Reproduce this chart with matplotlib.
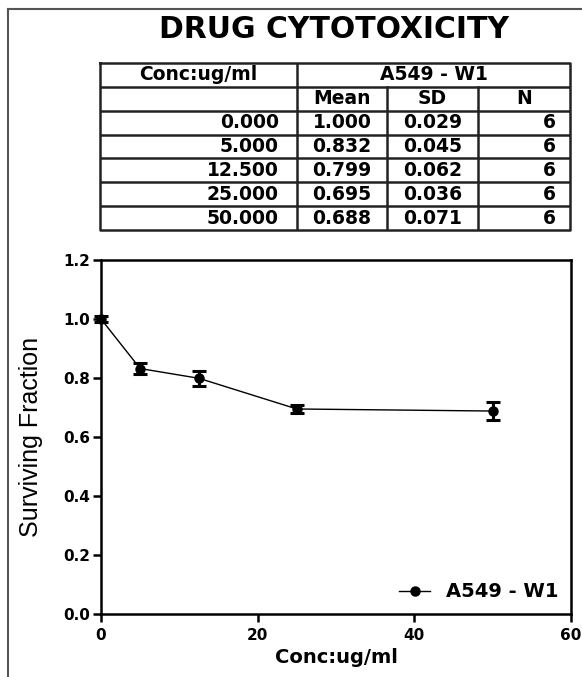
import numpy as np
import matplotlib
matplotlib.use("Agg")
from matplotlib import pyplot as plt
from matplotlib.lines import Line2D

plt.rcParams['font.family'] = ['DejaVu Sans']

# data
conc = [0.0, 5.0, 12.5, 25.0, 50.0]
mean = [1.000, 0.832, 0.799, 0.695, 0.688]
sd = [0.029, 0.045, 0.062, 0.036, 0.071]
n = [6, 6, 6, 6, 6]
series = "A549 - W1"
sem = [s / np.sqrt(k) for s, k in zip(sd, n)]

W, H = 582, 677
fig = plt.figure(figsize=(W / 100, H / 100), dpi=100)

# page frame (left and top only)
fig.add_artist(Line2D([8 / W, 8 / W], [0, 1 - 9 / H], color="#555555", lw=1.5))
fig.add_artist(Line2D([8 / W, 1], [1 - 9 / H, 1 - 9 / H], color="#555555", lw=1.5))

fig.text(334 / W, 1 - 29 / H, "DRUG CYTOTOXICITY", ha="center", va="center",
         fontsize=21.5, fontweight="bold")

# ---- table ----
tx0, tx1, ty0, ty1 = 100, 570, 63, 230
tax = fig.add_axes([tx0 / W, 1 - ty1 / H, (tx1 - tx0) / W, (ty1 - ty0) / H])
tax.set_xlim(tx0, tx1)
tax.set_ylim(7, 0)
tax.axis("off")
cols = [100, 297, 387, 478, 570]
lc = "#222222"
lw = 1.8
tax.plot([tx0, tx1, tx1, tx0, tx0], [0, 0, 7, 7, 0], color=lc, lw=lw, clip_on=False)
for r in range(1, 7):
    tax.plot([tx0, tx1], [r, r], color=lc, lw=lw)
tax.plot([cols[1], cols[1]], [0, 7], color=lc, lw=lw)
for c in cols[2:4]:
    tax.plot([c, c], [1, 7], color=lc, lw=lw)

fs = 13.5
tax.text((cols[0] + cols[1]) / 2, 0.5, "Conc:ug/ml", ha="center", va="center",
         fontsize=fs, fontweight="bold")
tax.text((cols[1] + cols[4]) / 2, 0.5, series, ha="center", va="center",
         fontsize=fs, fontweight="bold")
for i, h in enumerate(["Mean", "SD", "N"]):
    tax.text((cols[i + 1] + cols[i + 2]) / 2, 1.5, h, ha="center", va="center",
             fontsize=fs, fontweight="bold")
for r, (c, m, s, k) in enumerate(zip(conc, mean, sd, n)):
    y = r + 2.5
    tax.text(cols[1] - 18, y, "%.3f" % c, ha="right", va="center", fontsize=fs, fontweight="bold")
    tax.text((cols[1] + cols[2]) / 2, y, "%.3f" % m, ha="center", va="center", fontsize=fs, fontweight="bold")
    tax.text((cols[2] + cols[3]) / 2, y, "%.3f" % s, ha="center", va="center", fontsize=fs, fontweight="bold")
    tax.text(cols[4] - 14, y, str(k), ha="right", va="center", fontsize=fs, fontweight="bold")

# ---- plot ----
ax = fig.add_axes([101 / W, 1 - 614 / H, 470 / W, 354 / H])
ax.errorbar(conc, mean, yerr=sem, fmt="none", ecolor="black",
            capsize=5, capthick=2.2, elinewidth=2.2, clip_on=False)
ax.plot(conc, mean, color="black", lw=1.0, marker="o", markersize=6.5,
        clip_on=False, label=series)
ax.set_xlim(0, 60)
ax.set_ylim(0, 1.2)
ax.set_xticks([0, 20, 40, 60])
ax.set_yticks(np.arange(0, 1.21, 0.2))
ax.yaxis.set_major_formatter(matplotlib.ticker.FormatStrFormatter("%.1f"))
for sp in ax.spines.values():
    sp.set_linewidth(1.8)
ax.tick_params(direction="out", length=6, width=1.8, labelsize=11)
ax.tick_params(axis="x", pad=4)
ax.tick_params(axis="y", pad=2)
for lab in ax.get_xticklabels() + ax.get_yticklabels():
    lab.set_fontweight("bold")
ax.set_xlabel("Conc:ug/ml", fontsize=14, fontweight="bold", labelpad=4)
ax.set_ylabel("Surviving Fraction", fontsize=18, family=["Liberation Sans"], labelpad=14)
leg = ax.legend(loc="lower right", frameon=False, fontsize=14, handlelength=1.6,
                borderaxespad=0.25, handletextpad=0.8)
for t in leg.get_texts():
    t.set_fontweight("bold")

fig.savefig("out.png", dpi=100)
